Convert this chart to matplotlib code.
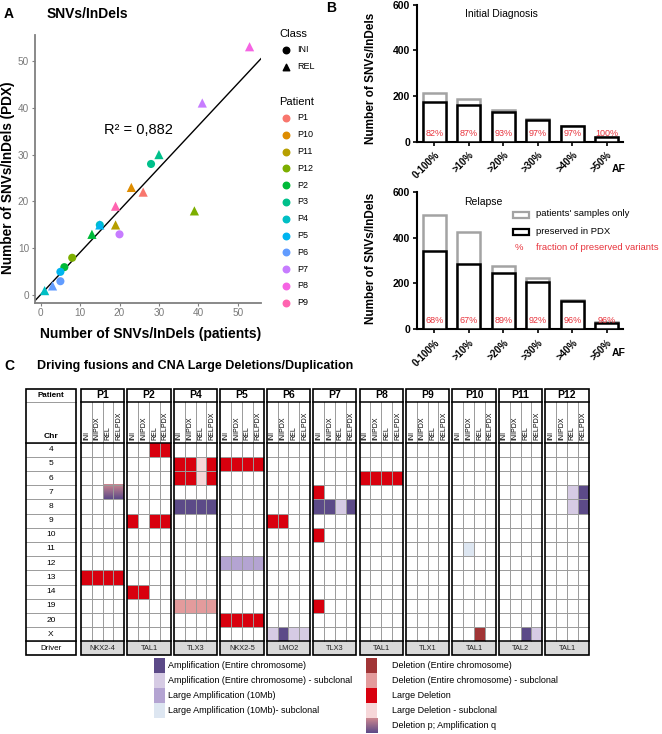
import numpy as np
import matplotlib
matplotlib.use("Agg")
import matplotlib.pyplot as plt
from matplotlib.patches import Rectangle
from matplotlib.colors import to_rgb

plt.rcParams['font.family'] = ['Liberation Sans', 'DejaVu Sans']

# ---------------- Panel A data ----------------
a_patient = ['P8', 'P7', 'P3', 'P3', 'P10', 'P1', 'P9', 'P11', 'P7', 'P12',
             'P4', 'P5', 'P2', 'P12', 'P2', 'P5', 'P6', 'P6', 'P4']
a_class = ['REL', 'REL', 'REL', 'INI', 'REL', 'REL', 'REL', 'REL', 'INI', 'REL',
           'INI', 'REL', 'REL', 'INI', 'INI', 'INI', 'INI', 'REL', 'REL']
a_x_patients = [53, 41, 30, 28, 23, 26, 19, 19, 20, 39, 15, 15, 13, 8, 6, 5, 5, 3, 1]
a_y_pdx = [53, 41, 30, 28, 23, 22, 19, 15, 13, 18, 15, 15, 13, 8, 6, 5, 3, 2, 1]
fit_slope = 0.90
fit_intercept = 0.15
r2_label = 'R² = 0,882'
patient_levels = ['P1', 'P10', 'P11', 'P12', 'P2', 'P3', 'P4', 'P5', 'P6', 'P7', 'P8', 'P9']
patient_colors = ['#F8766D', '#DE8C00', '#B79F00', '#7CAE00', '#00BA38', '#00C08B',
                  '#00BFC4', '#00B4F0', '#619CFF', '#C77CFF', '#F564E3', '#FF64B0']
class_levels = ['INI', 'REL']

# ---------------- Panel B data ----------------
af_labels = ['0-100%', '>10%', '>20%', '>30%', '>40%', '>50%']
ini_total = [214, 187, 139, 100, 70, 22]
ini_preserved = [175, 162, 129, 97, 68, 22]
ini_pct = [82, 87, 93, 97, 97, 100]
rel_total = [500, 425, 275, 225, 128, 29]
rel_preserved = [340, 286, 245, 207, 124, 28]
rel_pct = [68, 67, 89, 92, 96, 96]

# ---------------- Panel C data ----------------
chromosomes = ['4', '5', '6', '7', '8', '9', '10', '11', '12', '13', '14', '19', '20', 'X']
c_patients = ['P1', 'P2', 'P4', 'P5', 'P6', 'P7', 'P8', 'P9', 'P10', 'P11', 'P12']
drivers = ['NKX2-4', 'TAL1', 'TLX3', 'NKX2-5', 'LMO2', 'TLX3', 'TAL1', 'TLX1', 'TAL1', 'TAL2', 'TAL1']
samples = ['INI', 'INIPDX', 'REL', 'RELPDX']
# (patient, chromosome, [INI, INIPDX, REL, RELPDX])
events = [
    ('P1', '7', [None, None, 'DpAq', 'DpAq']),
    ('P1', '13', ['LD', 'LD', 'LD', 'LD']),
    ('P2', '4', [None, None, 'LD', 'LD']),
    ('P2', '9', ['LD', None, 'LD', 'LD']),
    ('P2', '14', ['LD', 'LD', None, None]),
    ('P4', '5', ['LD', 'LD', 'LDs', 'LD']),
    ('P4', '6', ['LD', 'LD', 'LDs', 'LD']),
    ('P4', '8', ['A', 'A', 'A', 'A']),
    ('P4', '19', ['Ds', 'Ds', 'Ds', 'Ds']),
    ('P5', '5', ['LD', 'LD', 'LD', 'LD']),
    ('P5', '12', ['LA', 'LA', 'LA', 'LA']),
    ('P5', '20', ['LD', 'LD', 'LD', 'LD']),
    ('P6', '9', ['LD', 'LD', None, None]),
    ('P6', 'X', ['As', 'A', 'As', 'As']),
    ('P7', '7', ['LD', None, None, None]),
    ('P7', '8', ['A', 'A', 'As', 'A']),
    ('P7', '10', ['LD', None, None, None]),
    ('P7', '19', ['LD', None, None, None]),
    ('P8', '6', ['LD', 'LD', 'LD', 'LD']),
    ('P10', '11', [None, 'LAs', None, None]),
    ('P10', 'X', [None, None, 'D', None]),
    ('P11', 'X', [None, None, 'A', 'As']),
    ('P12', '7', [None, None, 'As', 'A']),
    ('P12', '8', [None, None, 'As', 'A']),
]
cat_colors = {'A': '#5c4a88', 'As': '#d6cbe4', 'LA': '#b4a4d2', 'LAs': '#dde6f1',
              'D': '#a13536', 'Ds': '#e39b9c', 'LD': '#d8000e', 'LDs': '#f6d7d9'}
grad_top, grad_bottom = '#cc8790', '#5c4a88'
legend_left = [('A', 'Amplification (Entire chromosome)'),
               ('As', 'Amplification (Entire chromosome) - subclonal'),
               ('LA', 'Large Amplification (10Mb)'),
               ('LAs', 'Large Amplification (10Mb)- subclonal')]
legend_right = [('D', 'Deletion (Entire chromosome)'),
                ('Ds', 'Deletion (Entire chromosome) - subclonal'),
                ('LD', 'Large Deletion'),
                ('LDs', 'Large Deletion - subclonal'),
                ('DpAq', 'Deletion p; Amplification q')]

# ---------------- figure ----------------
W, H = 662, 734
fig = plt.figure(figsize=(W / 100, H / 100), dpi=100)


def add_ax(l, t, r, b):
    return fig.add_axes([l / W, 1 - b / H, (r - l) / W, (b - t) / H])


ov = add_ax(0, 0, W, H)
ov.set_xlim(0, W)
ov.set_ylim(H, 0)
ov.axis('off')


def gradient(ax, x0, y0, w, h):
    n = 50
    c1, c2 = np.array(to_rgb(grad_top)), np.array(to_rgb(grad_bottom))
    t = np.linspace(0, 1, n)[:, None]
    img = (c1 * (1 - t) + c2 * t)[:, None, :]
    ax.imshow(img, extent=[x0, x0 + w, y0 + h, y0], aspect='auto', origin='upper',
              interpolation='bilinear', zorder=2)


# ---------------- Panel A ----------------
axA = add_ax(34.7, 35, 261, 302.7)
axA.patch.set_alpha(0)
axA.set_xlim(-1.52, 55.9)
axA.set_ylim(-1.58, 55.5)
for s in ['top', 'right']:
    axA.spines[s].set_visible(False)
for s in ['left', 'bottom']:
    axA.spines[s].set_color('#808080')
    axA.spines[s].set_linewidth(1.3)
axA.set_xticks(range(0, 51, 10))
axA.set_yticks(range(0, 51, 10))
axA.tick_params(colors='#808080', labelsize=7.2, length=2.5, width=0.8, pad=1.5,
                labelcolor='#7a7a7a')
xs = np.array(axA.get_xlim())
axA.plot(xs, fit_slope * xs + fit_intercept, color='black', lw=1.0, zorder=2)
for p, c, x, y in zip(a_patient, a_class, a_x_patients, a_y_pdx):
    col = patient_colors[patient_levels.index(p)]
    axA.scatter(x, y, s=34 if c == 'INI' else 44, marker='o' if c == 'INI' else '^',
                color=col, edgecolors='none', zorder=3)
axA.text(24.7, 35.2, r2_label, ha='center', va='center', fontsize=10.5)
ov.text(151, 334, 'Number of SNVs/InDels (patients)', fontsize=10, fontweight='bold',
        ha='center', va='center')
ov.text(8, 178, 'Number of SNVs/InDels (PDX)', fontsize=9.8, fontweight='bold',
        ha='center', va='center', rotation=90)
ov.text(4, 14, 'A', fontsize=10, fontweight='bold', va='center')
ov.text(47, 14, 'SNVs/InDels', fontsize=10, fontweight='bold', va='center')

# legend A
ov.text(279, 34, 'Class', fontsize=8, va='center')
for i, c in enumerate(class_levels):
    ov.scatter(286, 50 + 16.5 * i, s=22, marker='o' if c == 'INI' else '^', color='black')
    ov.text(297, 50 + 16.5 * i, c, fontsize=6.5, va='center')
ov.text(279, 102, 'Patient', fontsize=8, va='center')
for i, (p, col) in enumerate(zip(patient_levels, patient_colors)):
    ov.scatter(286, 118 + 16.8 * i, s=22, marker='o', color=col)
    ov.text(297, 118 + 16.8 * i, p, fontsize=6.5, va='center')

# ---------------- Panel B ----------------
ov.text(326, 8, 'B', fontsize=10, fontweight='bold', va='center')


def bar_panel(ax, total, preserved, pct, title):
    ax.patch.set_alpha(0)
    x = np.arange(len(af_labels))
    ax.bar(x, total, width=0.66, facecolor='white', edgecolor='#a3a3a3', linewidth=1.8, zorder=2)
    ax.bar(x, preserved, width=0.66, facecolor='white', edgecolor='black', linewidth=1.8, zorder=3)
    for xi, p in zip(x, pct):
        ax.text(xi, 38, f'{p}%', color='#e8333c', ha='center', va='center', fontsize=6.5, zorder=4)
    ax.set_xlim(-0.49, 5.47)
    ax.set_ylim(0, 600)
    ax.set_yticks([0, 200, 400, 600])
    ax.set_xticks(x)
    ax.set_xticklabels(af_labels, rotation=45, ha='right', rotation_mode='anchor',
                       fontweight='bold', fontsize=7)
    for lab in ax.get_yticklabels():
        lab.set_fontweight('bold')
    ax.tick_params(axis='y', labelsize=7.5, length=3, width=1.2, pad=2)
    ax.tick_params(axis='x', length=3, width=1.2, pad=3)
    for s in ['top', 'right']:
        ax.spines[s].set_visible(False)
    for s in ['left', 'bottom']:
        ax.spines[s].set_linewidth(1.5)
    ax.text(0.23, 0.93, title, transform=ax.transAxes, fontsize=7.5, va='center')


axB1 = add_ax(417.3, 4.7, 623, 141.7)
bar_panel(axB1, ini_total, ini_preserved, ini_pct, 'Initial Diagnosis')
axB2 = add_ax(417.3, 192, 623, 329)
bar_panel(axB2, rel_total, rel_preserved, rel_pct, 'Relapse')
for yc in (78, 258):
    ov.text(371, yc, 'Number of SNVs/InDels', rotation=90, fontsize=8.5, fontweight='bold',
            ha='center', va='center')
for ya in (169.5, 353):
    ov.text(619, ya, 'AF', fontsize=7.5, fontweight='bold', ha='center', va='center')
# legend B
ov.add_patch(Rectangle((513, 211.5), 16, 6, facecolor='white', edgecolor='#a3a3a3', lw=1.6, zorder=6))
ov.add_patch(Rectangle((513, 228.5), 16, 6, facecolor='white', edgecolor='black', lw=1.6, zorder=6))
ov.text(536, 214, "patients' samples only", fontsize=6.8, va='center', zorder=6)
ov.text(536, 231, 'preserved in PDX', fontsize=6.8, va='center', zorder=6)
ov.text(519, 247.5, '%', fontsize=6.8, va='center', ha='center', color='#e8333c', zorder=6)
ov.text(536, 247.5, 'fraction of preserved variants', fontsize=6.8, va='center',
        color='#e8333c', zorder=6)

# ---------------- Panel C ----------------
ov.text(4, 366, 'C', fontsize=10, fontweight='bold', va='center')
ov.text(37, 366, 'Driving fusions and CNA Large Deletions/Duplication', fontsize=9,
        fontweight='bold', va='center')

t_top, t_prow, t_head = 389.0, 402.0, 442.5
row_h = 14.2
n_rows = len(chromosomes)
t_drv = t_head + n_rows * row_h
t_bot = t_drv + 14
pc_l, pc_r = 26.0, 76.0
b0, b_step, b_w = 81.0, 46.43, 43.3
cw = b_w / len(samples)
grid_gray = '#9a9a9a'

# patient column
for r in range(n_rows + 1):
    ov.plot([pc_l, pc_r], [t_head + r * row_h] * 2, color=grid_gray, lw=0.7, zorder=3)
ov.plot([pc_l, pc_r], [t_prow] * 2, color=grid_gray, lw=0.7, zorder=3)
ov.plot([pc_l, pc_r], [t_head] * 2, color='black', lw=1.1, zorder=4)
ov.plot([pc_l, pc_r], [t_drv] * 2, color='black', lw=1.1, zorder=4)
ov.add_patch(Rectangle((pc_l, t_top), pc_r - pc_l, t_bot - t_top, fill=False,
                       edgecolor='black', lw=1.2, zorder=5))
pc_c = (pc_l + pc_r) / 2
ov.text(pc_c, (t_top + t_prow) / 2, 'Patient', fontsize=5.8, fontweight='bold', ha='center', va='center')
ov.text(pc_c, t_head - 6, 'Chr', fontsize=6, fontweight='bold', ha='center', va='center')
for r, ch in enumerate(chromosomes):
    ov.text(pc_c, t_head + (r + 0.5) * row_h, ch, fontsize=6, ha='center', va='center')
ov.text(pc_c, (t_drv + t_bot) / 2, 'Driver', fontsize=5.8, ha='center', va='center')

ev_map = {}
for p, ch, vals in events:
    ev_map[(p, ch)] = vals

for bi, (p, drv) in enumerate(zip(c_patients, drivers)):
    x0 = b0 + bi * b_step
    for r, ch in enumerate(chromosomes):
        vals = ev_map.get((p, ch), [None] * 4)
        y0 = t_head + r * row_h
        for ci, v in enumerate(vals):
            if v is None:
                continue
            if v == 'DpAq':
                gradient(ov, x0 + ci * cw, y0, cw, row_h)
            else:
                ov.add_patch(Rectangle((x0 + ci * cw, y0), cw, row_h, facecolor=cat_colors[v],
                                       edgecolor='none', zorder=2))
    ov.add_patch(Rectangle((x0, t_drv), b_w, t_bot - t_drv, facecolor='#d9d9d9',
                           edgecolor='none', zorder=2))
    ov.text(x0 + b_w / 2, (t_drv + t_bot) / 2, drv, fontsize=5.3, ha='center', va='center',
            color='#222222', zorder=6)
    for ci in range(1, len(samples)):
        ov.plot([x0 + ci * cw] * 2, [t_prow, t_drv], color=grid_gray, lw=0.7, zorder=3)
    for r in range(1, n_rows):
        ov.plot([x0, x0 + b_w], [t_head + r * row_h] * 2, color=grid_gray, lw=0.7, zorder=3)
    for yy in (t_prow, t_head, t_drv):
        ov.plot([x0, x0 + b_w], [yy] * 2, color='black', lw=1.1, zorder=4)
    ov.add_patch(Rectangle((x0, t_top), b_w, t_bot - t_top, fill=False, edgecolor='black',
                           lw=1.2, zorder=5))
    ov.text(x0 + b_w / 2, (t_top + t_prow) / 2, p, fontsize=7.5, fontweight='bold',
            ha='center', va='center')
    for ci, smp in enumerate(samples):
        ov.text(x0 + (ci + 0.5) * cw, t_head - 2.5, smp, rotation=90, fontsize=5,
                ha='center', va='bottom')

# legend C
sw_w, sw_h = 11.3, 15.0
for i, (code, lab) in enumerate(legend_left):
    y0 = 658 + i * sw_h
    ov.add_patch(Rectangle((154, y0), sw_w, sw_h, facecolor=cat_colors[code], edgecolor='none'))
    ov.text(168, y0 + sw_h / 2, lab, fontsize=6.5, va='center')
for i, (code, lab) in enumerate(legend_right):
    y0 = 658 + i * sw_h
    if code == 'DpAq':
        gradient(ov, 365.7, y0, sw_w, sw_h)
    else:
        ov.add_patch(Rectangle((365.7, y0), sw_w, sw_h, facecolor=cat_colors[code], edgecolor='none'))
    ov.text(391.7, y0 + sw_h / 2, lab, fontsize=6.5, va='center')

ov.set_xlim(0, W)
ov.set_ylim(H, 0)
fig.savefig('out.png', dpi=100)
